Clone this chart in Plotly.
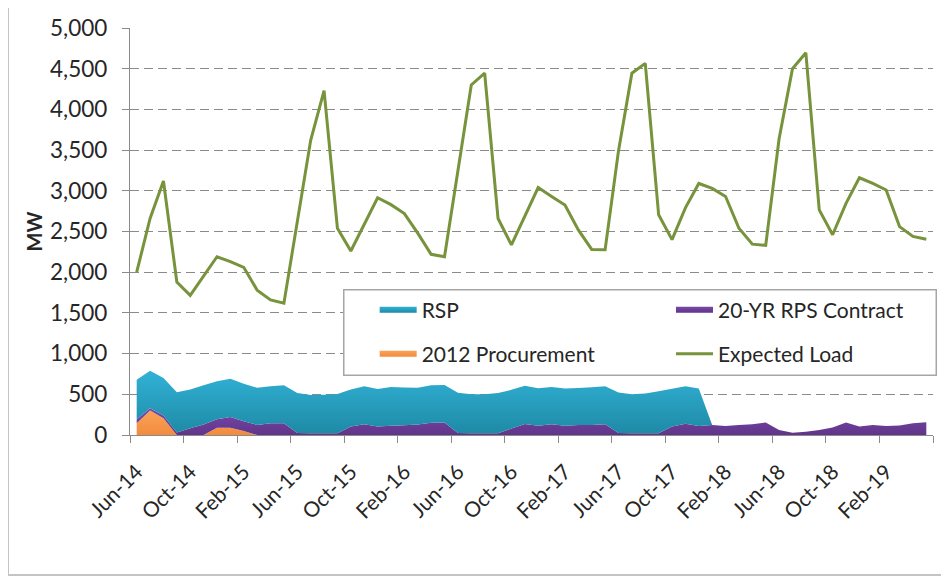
import plotly.graph_objects as go

months = [
    "Jun-14", "Jul-14", "Aug-14", "Sep-14", "Oct-14", "Nov-14", "Dec-14",
    "Jan-15", "Feb-15", "Mar-15", "Apr-15", "May-15", "Jun-15", "Jul-15", "Aug-15", "Sep-15", "Oct-15", "Nov-15", "Dec-15",
    "Jan-16", "Feb-16", "Mar-16", "Apr-16", "May-16", "Jun-16", "Jul-16", "Aug-16", "Sep-16", "Oct-16", "Nov-16", "Dec-16",
    "Jan-17", "Feb-17", "Mar-17", "Apr-17", "May-17", "Jun-17", "Jul-17", "Aug-17", "Sep-17", "Oct-17", "Nov-17", "Dec-17",
    "Jan-18", "Feb-18", "Mar-18", "Apr-18", "May-18", "Jun-18", "Jul-18", "Aug-18", "Sep-18", "Oct-18", "Nov-18", "Dec-18",
    "Jan-19", "Feb-19", "Mar-19", "Apr-19", "May-19",
]

tick_labels = ["Jun-14", "Oct-14", "Feb-15", "Jun-15", "Oct-15", "Feb-16", "Jun-16", "Oct-16",
               "Feb-17", "Jun-17", "Oct-17", "Feb-18", "Jun-18", "Oct-18", "Feb-19"]

procurement_2012 = [145, 300, 205, 0, 0, 0, 90, 90, 50, 0, 0, 0, 0, 0, 0, 0, 0, 0, 0,
                    0, 0, 0, 0, 0, 0, 0, 0, 0, 0, 0, 0, 0, 0, 0, 0, 0, 0, 0, 0, 0,
                    0, 0, 0, 0, 0, 0, 0, 0, 0, 0, 0, 0, 0, 0, 0, 0, 0, 0, 0, 0]

rps_20yr = [45, 30, 35, 30, 83, 128, 105, 132, 120, 124, 145, 145, 25, 20, 20, 20, 105, 132, 105,
            115, 120, 128, 150, 155, 25, 20, 20, 20, 80, 134, 114, 132, 114, 122, 124, 132, 25, 20, 20, 20,
            103, 138, 112, 124, 112, 124, 132, 153, 62, 29, 41, 62, 91, 153, 103, 124, 112, 116, 145, 157]

rsp = [490, 460, 460, 495, 477, 482, 465, 468, 460, 456, 455, 465, 490, 470, 475, 485, 455, 468, 460,
       475, 465, 452, 460, 460, 495, 480, 480, 495, 475, 471, 461, 458, 456, 456, 464, 468, 497, 480, 490, 517,
       465, 462, 458, 0, 0, 0, 0, 0, 0, 0, 0, 0, 0, 0, 0, 0, 0, 0, 0, 0]

expected_load = [2000, 2660, 3120, 1880, 1715, 1960, 2190, 2130, 2060, 1780, 1660, 1620, 2630, 3620, 4230,
                 2540, 2260, 2590, 2915, 2830, 2720, 2480, 2220, 2190, 3250, 4300, 4445, 2660, 2335, 2690,
                 3040, 2930, 2825, 2520, 2280, 2275, 3490, 4445, 4565, 2705, 2400, 2790, 3090, 3030, 2930,
                 2540, 2345, 2330, 3640, 4500, 4695, 2765, 2460, 2845, 3160, 3090, 3010, 2560, 2440, 2405]

x = list(range(len(months)))
tickvals = [months.index(t) for t in tick_labels]

FONT = "Lato"
TEXT = "#262626"
GRID = "#8a8a8a"

fig = go.Figure()

fig.add_trace(go.Scatter(
    x=x, y=procurement_2012, name="2012 Procurement", stackgroup="one", mode="none",
    fillcolor="#F79646",
    fillgradient=dict(type="vertical", colorscale=[[0, "#F28C3E"], [1, "#FAA257"]]),
    legend="legend3", customdata=months,
))
fig.add_trace(go.Scatter(
    x=x, y=rps_20yr, name="20-YR RPS Contract", stackgroup="one", mode="none",
    fillcolor="#6F3F9E",
    fillgradient=dict(type="vertical", colorscale=[[0, "#5F3589"], [1, "#7A48AA"]]),
    legend="legend2", customdata=months,
))
fig.add_trace(go.Scatter(
    x=x, y=rsp, name="RSP", stackgroup="one", mode="none",
    fillcolor="#29A3C4",
    fillgradient=dict(type="vertical", colorscale=[[0, "#1E8AA6"], [1, "#32B2D6"]]),
    legend="legend", customdata=months,
))
fig.add_trace(go.Scatter(
    x=x, y=expected_load, name="Expected Load", mode="lines",
    line=dict(color="#77933C", width=3),
    legend="legend4", customdata=months,
))

legend_common = dict(
    orientation="h", xanchor="left", yanchor="middle", itemwidth=37,
    bgcolor="rgba(0,0,0,0)", borderwidth=0,
    font=dict(family=FONT, size=21, color=TEXT),
)
COL1, COL2 = 0.3047, 0.6737
ROW1, ROW2 = 0.3071, 0.199

fig.update_layout(
    width=949, height=579,
    # the page adds an 8px body margin, so the plot area is placed to land at 130..933 x 28..435
    margin=dict(l=122, r=24, t=20, b=152, autoexpand=False),
    paper_bgcolor="white", plot_bgcolor="white",
    font=dict(family=FONT, size=21, color=TEXT),
    legend=dict(legend_common, x=COL1, y=ROW1),
    legend2=dict(legend_common, x=COL2, y=ROW1),
    legend3=dict(legend_common, x=COL1, y=ROW2),
    legend4=dict(legend_common, x=COL2, y=ROW2),
    showlegend=True,
    xaxis=dict(
        range=[-0.5, 59.5], tickmode="array", tickvals=tickvals, ticktext=tick_labels,
        tickangle=-45, ticks="", showgrid=False, zeroline=False, automargin=False,
        showline=True, linecolor=GRID, linewidth=1.3, ticklabelstandoff=15,
        tickfont=dict(family=FONT, size=21, color=TEXT),
        minor=dict(tickmode="linear", tick0=-0.5, dtick=4, ticks="outside", ticklen=7,
                   tickcolor=GRID, tickwidth=1.3, showgrid=False),
    ),
    yaxis=dict(
        range=[0, 5000], tickmode="linear", tick0=0, dtick=500, tickformat=",d",
        showgrid=True, gridcolor=GRID, griddash="9px,5px", gridwidth=1.3,
        zeroline=False, showline=True, linecolor=GRID, linewidth=1.3, automargin=False,
        ticks="outside", ticklen=7, tickcolor=GRID, ticklabelstandoff=10,
        tickfont=dict(family=FONT, size=22.5, color=TEXT),
        title=dict(text="<b>MW</b>", font=dict(family=FONT, size=20, color=TEXT), standoff=2),
    ),
    shapes=[
        dict(type="rect", xref="paper", yref="paper", x0=0.2656, x1=1.0053, y0=0.1457, y1=0.3604,
             line=dict(width=0), fillcolor="white", layer="above"),
    ],
    annotations=[
        # legend frame
        dict(xref="paper", yref="paper", x=0.6354, y=0.2530, xanchor="center", yanchor="middle",
             text=" ", showarrow=False, width=591, height=84, borderpad=0,
             bordercolor="#A6A6A6", borderwidth=1.5, bgcolor="rgba(0,0,0,0)"),
        # chart frame
        dict(xref="paper", yref="paper", x=0.4352, y=0.3550, xanchor="center", yanchor="middle",
             text=" ", showarrow=False, width=941, height=567, borderpad=0,
             bordercolor="#C4C4C4", borderwidth=2, bgcolor="rgba(0,0,0,0)"),
    ],
)

fig.write_html("out.html")
